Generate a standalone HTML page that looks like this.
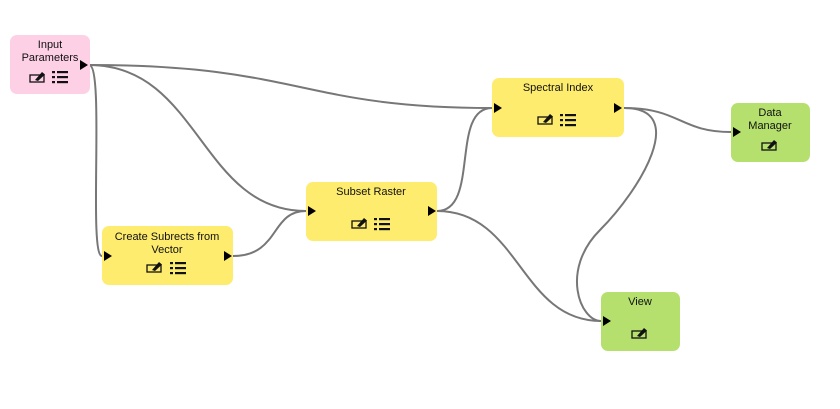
<!DOCTYPE html>
<html><head><style>
body{margin:0;background:#fff;width:840px;height:404px;overflow:hidden;font-family:"Liberation Sans",sans-serif}
</style></head><body>
<svg width="840" height="404" xmlns="http://www.w3.org/2000/svg">
<defs>
<g id="ed"><rect x="0" y="4" width="14" height="7" fill="none" stroke="#111" stroke-width="1.3"/><path d="M5 9 L12 1 L15 3.5 L8 10 Z" fill="#111"/></g>
<g id="ls"><rect x="0" y="0" width="3" height="2.2" fill="#111"/><rect x="5" y="0" width="11" height="2.2" fill="#111"/><rect x="0" y="5" width="3" height="2.2" fill="#111"/><rect x="5" y="5" width="11" height="2.2" fill="#111"/><rect x="0" y="10" width="3" height="2.2" fill="#111"/><rect x="5" y="10" width="11" height="2.2" fill="#111"/></g>
<path id="ar" d="M0 -5 L8 0 L0 5 Z" fill="#000"/>
</defs>
<g fill="none" stroke="#777" stroke-width="2">
<path d="M89,65 C300,65 300,108 492,108"/>
<path d="M89,65 C200,65 200,211 306,211"/>
<path d="M89,65 C105,65 88,256 102,256"/>
<path d="M624,108 C680,108 680,132 731,132"/>
<path d="M624,108 C690,108 640,190 600,230 C560,270 580,321 601,321"/>
<path d="M437,211 C480,211 450,108 492,108"/>
<path d="M437,211 C520,211 520,321 601,321"/>
<path d="M233,256 C280,256 270,211 306,211"/>
</g>
<g font-size="11" fill="#111" text-anchor="middle">
<rect x="10" y="35" width="80" height="59" rx="7" fill="#fdd0e6"/>
<text x="50" y="48">Input</text><text x="50" y="61">Parameters</text>
<use href="#ed" x="30" y="71"/><use href="#ls" x="52" y="71"/>
<use href="#ar" x="80" y="65"/>

<rect x="492" y="78" width="132" height="59" rx="7" fill="#feec6e"/>
<text x="558" y="91">Spectral Index</text>
<use href="#ed" x="538" y="113"/><use href="#ls" x="560" y="114"/>
<use href="#ar" x="494" y="108"/><use href="#ar" x="614" y="108"/>

<rect x="731" y="103" width="79" height="59" rx="7" fill="#b5e06e"/>
<text x="770" y="116">Data</text><text x="770" y="129">Manager</text>
<use href="#ed" x="762" y="139"/>
<use href="#ar" x="733" y="132"/>

<rect x="306" y="182" width="131" height="59" rx="7" fill="#feec6e"/>
<text x="371" y="195">Subset Raster</text>
<use href="#ed" x="352" y="217"/><use href="#ls" x="374" y="218"/>
<use href="#ar" x="308" y="211"/><use href="#ar" x="428" y="211"/>

<rect x="102" y="226" width="131" height="59" rx="7" fill="#feec6e"/>
<text x="167" y="240">Create Subrects from</text><text x="167" y="253">Vector</text>
<use href="#ed" x="147" y="261"/><use href="#ls" x="170" y="262"/>
<use href="#ar" x="104" y="256"/><use href="#ar" x="224" y="256"/>

<rect x="601" y="292" width="79" height="59" rx="7" fill="#b5e06e"/>
<text x="640" y="305">View</text>
<use href="#ed" x="632" y="327"/>
<use href="#ar" x="603" y="321"/>
</g>
</svg>
</body></html>
